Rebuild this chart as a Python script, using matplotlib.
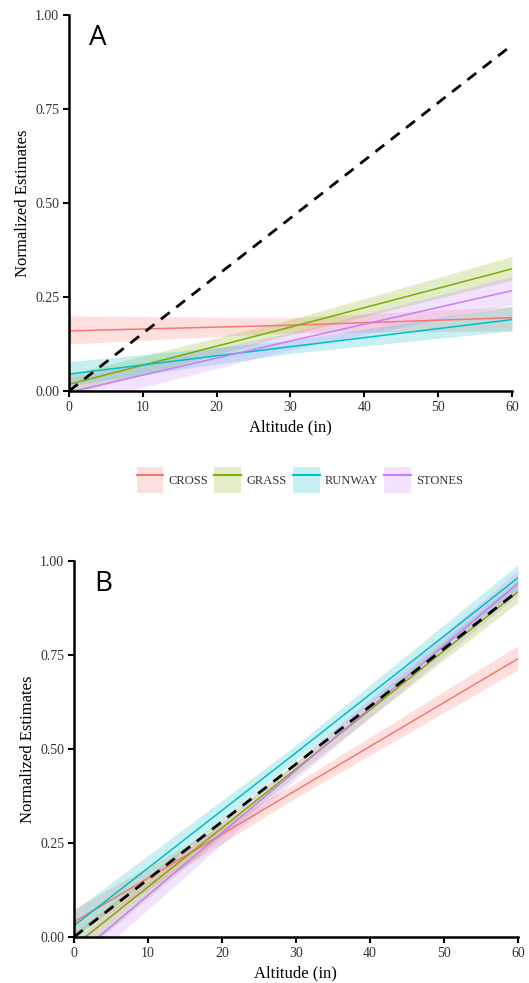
import numpy as np
import matplotlib.pyplot as plt
from matplotlib.patches import Patch
from matplotlib.lines import Line2D
from matplotlib.legend_handler import HandlerTuple

plt.rcParams['font.family'] = ['Liberation Serif', 'DejaVu Serif']

# Data
surfaces = ['CROSS', 'GRASS', 'RUNWAY', 'STONES']
colors = ['#F8766D', '#7CAE00', '#00BFC4', '#C77CFF']
altitude = [0, 30, 60]

# panel A: fit, lower, upper at altitude points
a_fit = {'CROSS': [0.160, 0.175, 0.195], 'GRASS': [0.018, 0.170, 0.325],
         'RUNWAY': [0.045, 0.118, 0.190], 'STONES': [-0.003, 0.133, 0.267]}
a_low = {'CROSS': [0.125, 0.155, 0.160], 'GRASS': [-0.010, 0.150, 0.295],
         'RUNWAY': [0.015, 0.100, 0.160], 'STONES': [-0.040, 0.110, 0.230]}
a_high = {'CROSS': [0.200, 0.195, 0.225], 'GRASS': [0.045, 0.190, 0.358],
          'RUNWAY': [0.078, 0.135, 0.225], 'STONES': [0.035, 0.155, 0.305]}

# panel B
b_fit = {'CROSS': [0.040, 0.390, 0.740], 'GRASS': [-0.024, 0.447, 0.918],
         'RUNWAY': [0.030, 0.490, 0.955], 'STONES': [-0.055, 0.443, 0.940]}
b_low = {'CROSS': [0.005, 0.370, 0.710], 'GRASS': [-0.060, 0.430, 0.890],
         'RUNWAY': [-0.005, 0.470, 0.925], 'STONES': [-0.100, 0.420, 0.910]}
b_high = {'CROSS': [0.075, 0.410, 0.775], 'GRASS': [0.012, 0.465, 0.950],
          'RUNWAY': [0.070, 0.510, 0.990], 'STONES': [-0.010, 0.465, 0.975]}

ref_x = [0, 60]
ref_y = [0, 0.92]

fig = plt.figure(figsize=(5.29, 9.83), dpi=100)
axA = fig.add_axes([0.1304, 0.6022, 0.8374, 0.3825])
axB = fig.add_axes([0.1399, 0.0468, 0.8390, 0.3825])


def draw(ax, fit, low, high, letter):
    for s, c in zip(surfaces, colors):
        ax.fill_between(altitude, low[s], high[s], color=c, alpha=0.22, lw=0)
        ax.plot(altitude, fit[s], color=c, lw=1.1)
    ax.plot(ref_x, ref_y, color='black', lw=2, ls=(0, (4, 3)))
    ax.set_xlim(0, 60)
    ax.set_ylim(0, 1)
    ax.set_xticks([0, 10, 20, 30, 40, 50, 60])
    ax.set_yticks([0, 0.25, 0.5, 0.75, 1.0])
    ax.set_yticklabels(['0.00', '0.25', '0.50', '0.75', '1.00'])
    for sp in ['top', 'right']:
        ax.spines[sp].set_visible(False)
    for sp in ['left', 'bottom']:
        ax.spines[sp].set_linewidth(1.8)
    ax.tick_params(length=4, width=1.5, labelsize=10, pad=3, color='black', labelcolor='#333333')
    ax.set_xlabel('Altitude (in)', fontsize=12, labelpad=4)
    ax.set_ylabel('Normalized Estimates', fontsize=12, labelpad=3)
    ax.text(0.045, 0.975, letter, transform=ax.transAxes, fontsize=20,
            family=['Open Sans', 'DejaVu Sans'], va='top', ha='left')


draw(axA, a_fit, a_low, a_high, 'A')
draw(axB, b_fit, b_low, b_high, 'B')

handles = [(Patch(facecolor=c, alpha=0.22, edgecolor='none'), Line2D([], [], color=c, lw=1.5))
           for c in colors]
fig.legend(handles, surfaces, handler_map={tuple: HandlerTuple(ndivide=1)},
           loc='center', bbox_to_anchor=(0.567, 0.5117), ncol=4, frameon=False,
           fontsize=9, handlelength=2.15, handleheight=2.9, handletextpad=0.4,
           columnspacing=0.5, labelcolor='#333333')

fig.savefig('out.png', dpi=100)
